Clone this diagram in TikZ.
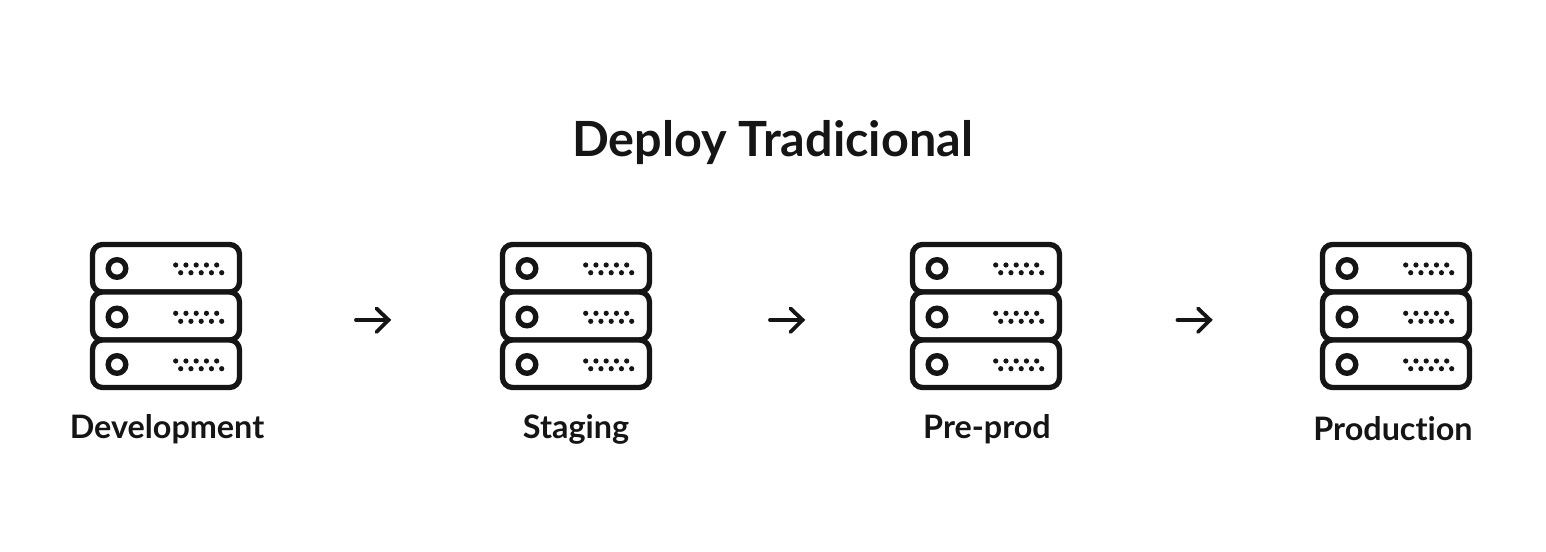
\documentclass[tikz,border=0pt]{standalone}
\usepackage{fontspec}
\setmainfont{Lato}[BoldFont={Lato Bold},Ligatures=NoCommon]
\definecolor{ink}{HTML}{151515}
\tikzset{
  x=0.75pt,y=-0.75pt,
  shell/.style={draw=ink,line width=4pt,rounded corners=7.5pt,fill=white},
  titletext/.style={font=\fontsize{36.4pt}{40pt}\selectfont\bfseries,text=ink,inner sep=0pt,anchor=base},
  labeltext/.style={font=\fontsize{24.25pt}{28pt}\selectfont\bfseries,text=ink,inner sep=0pt,anchor=base},
  flow/.style={draw=ink,line width=2.9pt,line cap=round,line join=miter},
  server/.pic={
    \foreach \top/\bot/\cy/\da/\db in {244.5/292/268.5/265/272.7,292/340/317/313.3/321.3,340/387.5/364.5/361/368.7}{
      \draw[shell] (92.5,\top) rectangle (239.5,\bot);
      \draw[ink,line width=4pt,fill=white] (117,\cy) circle[radius=6.6pt];
      \foreach \n in {0,...,4}{
        \fill[ink] (175.7+10.25*\n,\da) circle[radius=1.95pt];
        \fill[ink] (180.7+10.25*\n,\db) circle[radius=1.95pt];
      }
    }
  }
}
\begin{document}
\begin{tikzpicture}
\useasboundingbox (0,0) rectangle (1546,552);
\node[titletext] (title) at (772.5,157) {Deploy Tradicional};
\pic at (0,0) {server};
\pic at (410,0) {server};
\pic at (820,0) {server};
\pic at (1230,0) {server};
\node[labeltext] (dev) at (167,438) {Development};
\node[labeltext] (stag) at (576,438) {Staging};
\node[labeltext] (pre) at (987,438) {Pre-prod};
\node[labeltext] (prod) at (1393,440) {Production};
\foreach \nm/\dx in {a/0,b/414,c/821.5}{
  \coordinate (\nm s) at (356+\dx,320);
  \coordinate (\nm e) at (388.5+\dx,320);
  \coordinate (\nm u) at (376.5+\dx,308.5);
  \coordinate (\nm d) at (376.5+\dx,332);
  \draw[flow] (\nm s) -- (\nm e);
  \draw[flow] (\nm u) -- (\nm e) -- (\nm d);
}
\end{tikzpicture}
\end{document}
